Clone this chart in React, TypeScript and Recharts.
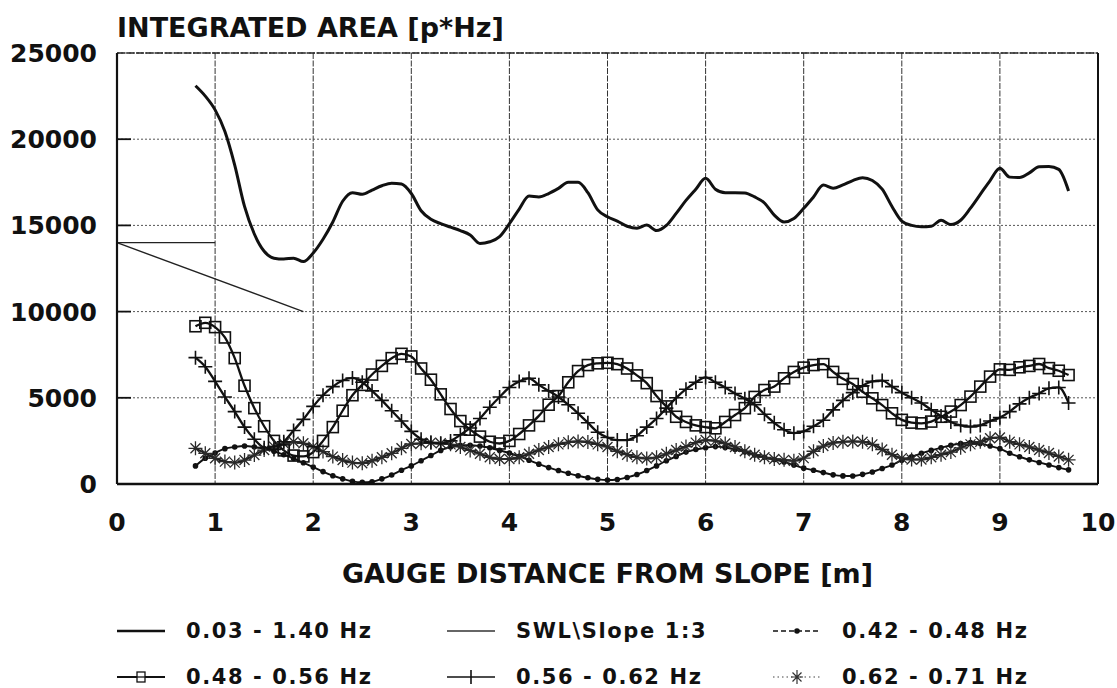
import React from 'react';
import { LineChart, Line, XAxis, YAxis, CartesianGrid, ReferenceLine, Label } from 'recharts';

const FONT = '"DejaVu Sans", Verdana, sans-serif';
const INK = '#111';

// Gauge distances from slope [m]
const distances = [
  0.8, 0.9, 1.0, 1.1, 1.2, 1.3, 1.4, 1.5, 1.6, 1.7,
  1.8, 1.9, 2.0, 2.1, 2.2, 2.3, 2.4, 2.5, 2.6, 2.7,
  2.8, 2.9, 3.0, 3.1, 3.2, 3.3, 3.4, 3.5, 3.6, 3.7,
  3.8, 3.9, 4.0, 4.1, 4.2, 4.3, 4.4, 4.5, 4.6, 4.7,
  4.8, 4.9, 5.0, 5.1, 5.2, 5.3, 5.4, 5.5, 5.6, 5.7,
  5.8, 5.9, 6.0, 6.1, 6.2, 6.3, 6.4, 6.5, 6.6, 6.7,
  6.8, 6.9, 7.0, 7.1, 7.2, 7.3, 7.4, 7.5, 7.6, 7.7,
  7.8, 7.9, 8.0, 8.1, 8.2, 8.3, 8.4, 8.5, 8.6, 8.7,
  8.8, 8.9, 9.0, 9.1, 9.2, 9.3, 9.4, 9.5, 9.6, 9.7,
];

// 0.03 - 1.40 Hz
const band003to140 = [
  23100, 22500, 21700, 20450, 18500, 16100, 14500, 13500, 13100, 13050,
  13100, 12900, 13400, 14200, 15200, 16400, 16900, 16800, 17050, 17300,
  17450, 17400, 16850, 15850, 15350, 15100, 14900, 14700, 14450, 13950,
  14050, 14350, 15100, 15950, 16700, 16650, 16850, 17150, 17500, 17500,
  16900, 15900, 15500, 15250, 14950, 14830, 15020, 14700, 15000, 15700,
  16450, 17100, 17730, 17100, 16900, 16900, 16880, 16650, 16300, 15600,
  15200, 15400, 15990, 16650, 17340, 17150, 17350, 17600, 17770, 17600,
  17100, 16100, 15250, 15000, 14920, 14950, 15300, 15050, 15300, 16000,
  16800, 17600, 18310, 17800, 17780, 18050, 18400, 18420, 18250, 17000,
];

// 0.42 - 0.48 Hz
const band042to048 = [
  1050, 1500, 1800, 2050, 2150, 2200, 2150, 2050, 1900, 1700,
  1480, 1230, 980, 720, 480, 300, 150, 100, 130, 300,
  520, 800, 1050, 1350, 1650, 1950, 2150, 2250, 2250, 2200,
  2100, 1950, 1800, 1600, 1380, 1150, 950, 780, 620, 480,
  360, 270, 230, 260, 380, 550, 780, 1050, 1350, 1600,
  1850, 2000, 2100, 2170, 2120, 2000, 1850, 1680, 1550, 1420,
  1280, 1100, 920, 800, 660, 530, 470, 460, 560, 700,
  900, 1100, 1380, 1580, 1780, 1950, 2100, 2250, 2350, 2400,
  2350, 2200, 2050, 1780, 1580, 1400, 1250, 1100, 950, 820,
];

// 0.48 - 0.56 Hz
const band048to056 = [
  9150, 9350, 9100, 8500, 7300, 5700, 4400, 3350, 2500, 1950,
  1650, 1600, 1850, 2500, 3300, 4250, 5150, 5750, 6350, 6850,
  7300, 7550, 7400, 6700, 6050, 5200, 4350, 3650, 3150, 2750,
  2450, 2350, 2500, 2900, 3400, 3950, 4600, 5100, 5900, 6550,
  6900, 7000, 7030, 6950, 6700, 6300, 5850, 5100, 4500, 3900,
  3600, 3400, 3300, 3230, 3600, 4000, 4400, 5050, 5450, 5650,
  6130, 6500, 6750, 6900, 6950, 6500, 6100, 5800, 5350, 4970,
  4580, 4100, 3720, 3560, 3520, 3620, 3900, 4200, 4580, 5070,
  5650, 6230, 6650, 6620, 6770, 6850, 6960, 6720, 6570, 6320,
];

// 0.56 - 0.62 Hz
const band056to062 = [
  7330, 6800, 5950, 5050, 4200, 3300, 2600, 2100, 2000, 2450,
  3100, 3750, 4500, 5150, 5650, 6000, 6150, 5900, 5400, 4850,
  4250, 3650, 3050, 2600, 2400, 2350, 2500, 2850, 3250, 3800,
  4450, 5050, 5600, 5950, 6130, 5750, 5400, 5050, 4600, 4100,
  3550, 3000, 2700, 2550, 2550, 2800, 3300, 3800, 4400, 5000,
  5500, 5900, 6180, 5900, 5600, 5250, 4950, 4600, 4050, 3550,
  3150, 2950, 3050, 3350, 3700, 4300, 4850, 5300, 5700, 5950,
  6000, 5650, 5300, 5000, 4700, 4300, 3950, 3600, 3400, 3330,
  3400, 3650, 3850, 4200, 4650, 5000, 5250, 5550, 5600, 4700,
];

// 0.62 - 0.71 Hz
const band062to071 = [
  2070, 1780, 1490, 1300, 1240, 1390, 1680, 1970, 2170, 2350,
  2450, 2360, 2170, 1880, 1590, 1390, 1240, 1200, 1350, 1550,
  1780, 2070, 2320, 2360, 2400, 2360, 2300, 2150, 1950, 1750,
  1550, 1450, 1450, 1550, 1750, 1970, 2150, 2300, 2420, 2470,
  2430, 2300, 2150, 1900, 1700, 1550, 1480, 1550, 1750, 1970,
  2170, 2400, 2550, 2500, 2350, 2150, 1900, 1700, 1550, 1450,
  1400, 1350, 1500, 1900, 2200, 2380, 2450, 2470, 2450, 2300,
  2000, 1700, 1500, 1420, 1420, 1550, 1700, 1850, 2100, 2300,
  2450, 2650, 2700, 2450, 2300, 2150, 1970, 1800, 1600, 1400,
];

// SWL \ slope 1:3 sketch
const swlLine = [
  { x: 0, y: 14000 },
  { x: 1.0, y: 14000 },
];
const slopeLine = [
  { x: 0, y: 14000 },
  { x: 1.9, y: 10000 },
];

const xTicks = [0, 1, 2, 3, 4, 5, 6, 7, 8, 9, 10];
const yTicks = [0, 5000, 10000, 15000, 20000, 25000];

const tableRows = distances.map((x, i) => ({
  x,
  total: band003to140[i],
  b042: band042to048[i],
  b048: band048to056[i],
  b056: band056to062[i],
  b062: band062to071[i],
}));

const squareDot = (p: any) => {
  if (p.cx == null || p.cy == null) return <g key={`sq-${p.index}`} />;
  return (
    <rect key={`sq-${p.index}`} x={p.cx - 5.5} y={p.cy - 5.5} width={11} height={11}
      fill="none" stroke={INK} strokeWidth={1.6} />
  );
};

const plusDot = (p: any) => {
  if (p.cx == null || p.cy == null) return <g key={`pl-${p.index}`} />;
  const r = 7;
  return (
    <path key={`pl-${p.index}`}
      d={`M${p.cx - r},${p.cy}H${p.cx + r}M${p.cx},${p.cy - r}V${p.cy + r}`}
      stroke={INK} strokeWidth={1.6} fill="none" />
  );
};

const starDot = (p: any) => {
  if (p.cx == null || p.cy == null) return <g key={`st-${p.index}`} />;
  const r = 7;
  const d = 5;
  const { cx, cy } = p;
  return (
    <path key={`st-${p.index}`}
      d={`M${cx - r},${cy}H${cx + r}M${cx},${cy - r}V${cy + r}M${cx - d},${cy - d}L${cx + d},${cy + d}M${cx - d},${cy + d}L${cx + d},${cy - d}`}
      stroke="#2a2a2a" strokeWidth={1.3} fill="none" />
  );
};

const smallDot = (p: any) => {
  if (p.cx == null || p.cy == null) return <g key={`dt-${p.index}`} />;
  return <circle key={`dt-${p.index}`} cx={p.cx} cy={p.cy} r={2.8} fill={INK} />;
};

const YTick = (props: any) => {
  const { x, y, payload } = props;
  const v = payload.value;
  const axisX = x + 20;
  return (
    <g>
      <text x={x} y={y} dy="0.36em" textAnchor="end" fill={INK}
        style={{ fontFamily: FONT, fontWeight: 700, fontSize: 25 }}>
        {v}
      </text>
      {v > 0 && v < 25000 ? (
        <line x1={axisX} x2={axisX + 14} y1={y} y2={y} stroke={INK} strokeWidth={1.8} />
      ) : null}
    </g>
  );
};

const TitleLabel = (props: any) => {
  const vb = props.viewBox || { x: 0, y: 53, width: 117 };
  return (
    <text x={vb.x + vb.width} y={vb.y - 16} fill={INK}
      style={{ fontFamily: FONT, fontWeight: 700, fontSize: 27 }}>
      INTEGRATED AREA [p*Hz]
    </text>
  );
};

type LegendKind = 'thick' | 'thin' | 'dot' | 'square' | 'plus' | 'star';
const legendItems: { label: string; kind: LegendKind }[] = [
  { label: '0.03 - 1.40 Hz', kind: 'thick' },
  { label: 'SWL\\Slope 1:3', kind: 'thin' },
  { label: '0.42 - 0.48 Hz', kind: 'dot' },
  { label: '0.48 - 0.56 Hz', kind: 'square' },
  { label: '0.56 - 0.62 Hz', kind: 'plus' },
  { label: '0.62 - 0.71 Hz', kind: 'star' },
];
const legendColumns = [117, 447, 773];
const legendRows = [631, 677];

const LegendIcon = ({ kind }: { kind: LegendKind }) => {
  const w = 48;
  const c = 12;
  const m = w / 2;
  return (
    <svg width={w} height={24} style={{ display: 'block', flex: '0 0 auto' }}>
      {kind === 'thick' && <line x1={0} x2={w} y1={c} y2={c} stroke={INK} strokeWidth={2.6} />}
      {kind === 'thin' && <line x1={0} x2={w} y1={c} y2={c} stroke="#333" strokeWidth={1.3} />}
      {kind === 'dot' && (
        <>
          <line x1={0} x2={w} y1={c} y2={c} stroke={INK} strokeWidth={1.4} strokeDasharray="5 3" />
          <circle cx={m} cy={c} r={2.8} fill={INK} />
        </>
      )}
      {kind === 'square' && (
        <>
          <line x1={0} x2={w} y1={c} y2={c} stroke={INK} strokeWidth={2} />
          <rect x={m - 4} y={c - 5} width={8} height={10} fill="#fff" stroke={INK} strokeWidth={1.3} />
          <line x1={m - 4} x2={m + 4} y1={c} y2={c} stroke={INK} strokeWidth={1.3} />
        </>
      )}
      {kind === 'plus' && (
        <>
          <line x1={0} x2={w} y1={c} y2={c} stroke={INK} strokeWidth={1.6} />
          <line x1={m} x2={m} y1={c - 7} y2={c + 7} stroke={INK} strokeWidth={1.6} />
        </>
      )}
      {kind === 'star' && (
        <>
          <line x1={0} x2={w} y1={c} y2={c} stroke="#444" strokeWidth={1.2} strokeDasharray="1.5 3" />
          <path d={`M${m - 6},${c}H${m + 6}M${m},${c - 7}V${c + 7}M${m - 4.5},${c - 4.5}L${m + 4.5},${c + 4.5}M${m - 4.5},${c + 4.5}L${m + 4.5},${c - 4.5}`}
            stroke="#333" strokeWidth={1.2} fill="none" />
        </>
      )}
    </svg>
  );
};

export default function App() {
  return (
    <div style={{ position: 'absolute', left: 0, top: 0, width: 1117, height: 688, background: '#fff', overflow: 'hidden' }}>
      <LineChart
        width={1117}
        height={688}
        data={tableRows}
        margin={{ top: 53, right: 19, bottom: 94, left: 0 }}
      >
        <CartesianGrid horizontal={false} stroke="#333" strokeWidth={1} strokeDasharray="6 1.5" />
        <CartesianGrid vertical={false} stroke="#555" strokeWidth={1} strokeDasharray="2 2" />
        <XAxis
          dataKey="x"
          type="number"
          domain={[0, 10]}
          ticks={xTicks}
          interval={0}
          tickLine={false}
          tickSize={0}
          tickMargin={29}
          height={110}
          axisLine={{ stroke: INK, strokeWidth: 2.6 }}
          tick={{ fill: INK, fontSize: 25, fontWeight: 700, fontFamily: FONT }}
          label={{
            value: 'GAUGE DISTANCE FROM SLOPE [m]',
            position: 'insideBottom',
            offset: 11,
            fill: INK,
            fontSize: 27,
            fontWeight: 700,
            fontFamily: FONT,
          }}
        />
        <YAxis
          type="number"
          domain={[0, 25000]}
          ticks={yTicks}
          interval={0}
          width={117}
          tickLine={false}
          tickSize={0}
          tickMargin={20}
          axisLine={{ stroke: INK, strokeWidth: 2.2 }}
          tick={<YTick />}
        >
          <Label content={<TitleLabel />} />
        </YAxis>
        <ReferenceLine y={25000} stroke="#222" strokeWidth={1.6} strokeDasharray="8 1.5" />
        <ReferenceLine x={10} stroke={INK} strokeWidth={2} />

        <Line data={swlLine} dataKey="y" type="linear" stroke="#222" strokeWidth={1.4}
          dot={false} isAnimationActive={false} legendType="none" />
        <Line data={slopeLine} dataKey="y" type="linear" stroke="#222" strokeWidth={1.4}
          dot={false} isAnimationActive={false} legendType="none" />

        <Line dataKey="total" type="monotone" stroke={INK} strokeWidth={3}
          dot={false} isAnimationActive={false} />
        <Line dataKey="b042" type="monotone" stroke={INK} strokeWidth={1.9}
          dot={smallDot} isAnimationActive={false} />
        <Line dataKey="b062" type="monotone" stroke="#1e1e1e" strokeWidth={2.1}
          dot={starDot} isAnimationActive={false} />
        <Line dataKey="b056" type="monotone" stroke={INK} strokeWidth={2.3}
          dot={plusDot} isAnimationActive={false} />
        <Line dataKey="b048" type="monotone" stroke={INK} strokeWidth={2.3}
          dot={squareDot} isAnimationActive={false} />
      </LineChart>

      {legendItems.map((item, i) => {
        const col = i % 3;
        const row = Math.floor(i / 3);
        return (
          <div key={item.label}
            style={{
              position: 'absolute',
              left: legendColumns[col],
              top: legendRows[row] - 12,
              height: 24,
              display: 'flex',
              alignItems: 'center',
              whiteSpace: 'nowrap',
            }}>
            <LegendIcon kind={item.kind} />
            <span style={{
              marginLeft: 21,
              fontFamily: FONT,
              fontWeight: 700,
              fontSize: 21,
              letterSpacing: 1.6,
              lineHeight: '24px',
              color: INK,
            }}>
              {item.label}
            </span>
          </div>
        );
      })}
    </div>
  );
}
